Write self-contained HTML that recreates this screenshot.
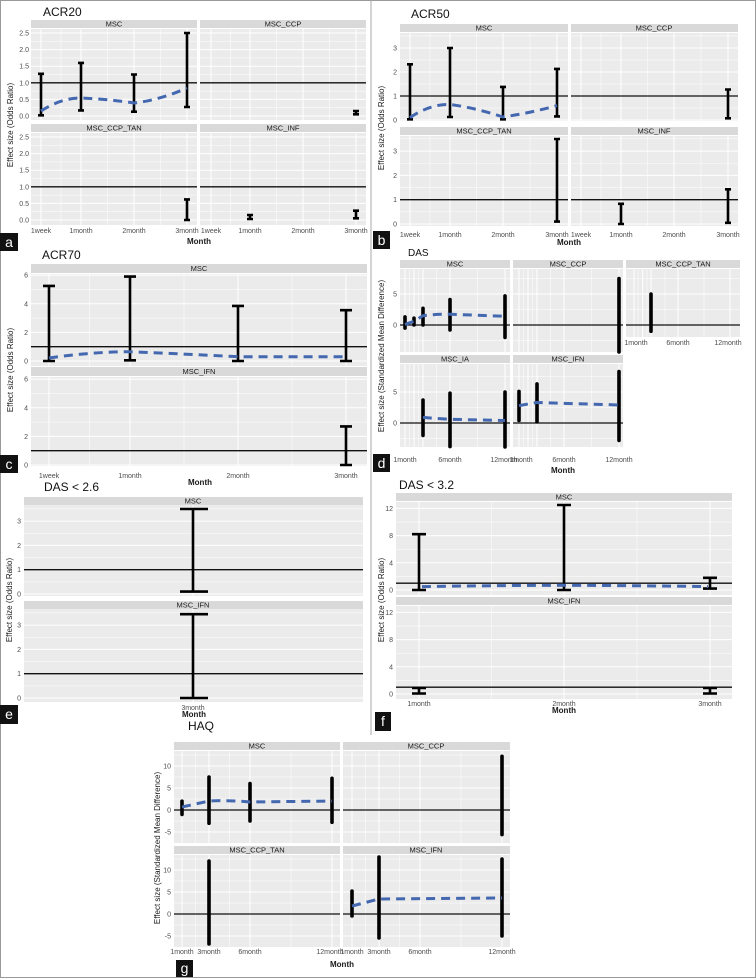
<!DOCTYPE html>
<html><head><meta charset="utf-8"><style>
html,body{margin:0;padding:0;background:#fff}
svg{display:block;font-family:"Liberation Sans",sans-serif}
.bg{fill:#ebebeb}.st{fill:#d9d9d9}
.M{stroke:#fff;stroke-width:1}.m{stroke:#fff;stroke-width:.5}
.r{stroke:#111;stroke-width:1.3}
.e{stroke:#000;stroke-width:2.6;fill:none}
.E{stroke:#000;stroke-width:3.6;fill:none;stroke-linecap:round}
.d{stroke:#4468b0;stroke-width:3;stroke-dasharray:9 6;fill:none}
.t{font-size:7px;fill:#4d4d4d}
.s{font-size:7.5px;fill:#1a1a1a;text-anchor:middle}
.x{font-size:7px;fill:#4d4d4d;text-anchor:middle}
.a{font-size:8px;font-weight:bold;fill:#1a1a1a;text-anchor:middle}
.yl{font-size:8px;fill:#1a1a1a;text-anchor:middle}
.ti{font-size:12px;fill:#111}
.lb{fill:#111}.lt{font-size:14px;fill:#fff;text-anchor:middle}
</style></head><body>
<svg width="756" height="978" viewBox="0 0 756 978">
<rect x="0.5" y="0.5" width="755" height="977" fill="none" stroke="#999"/>
<line x1="371" y1="0" x2="371" y2="735" stroke="#aaa"/>

<!-- ===== Panel a ===== -->
<text class="ti" x="43" y="16">ACR20</text>
<rect class="st" x="31" y="20" width="166" height="8"/><rect class="st" x="200" y="20" width="166" height="8"/>
<rect class="st" x="31" y="124" width="166" height="8"/><rect class="st" x="200" y="124" width="166" height="8"/>
<text class="s" x="114" y="26.5">MSC</text><text class="s" x="283" y="26.5">MSC_CCP</text>
<text class="s" x="114" y="130.5">MSC_CCP_TAN</text><text class="s" x="283" y="130.5">MSC_INF</text>
<rect class="bg" x="31" y="29" width="166" height="91"/><rect class="bg" x="200" y="29" width="166" height="91"/>
<rect class="bg" x="31" y="133" width="166" height="92"/><rect class="bg" x="200" y="133" width="166" height="92"/>
<g class="m">
<path d="M31 107.7H366M31 91.1H366M31 74.5H366M31 57.9H366M31 41.3H366M31 211.7H366M31 195.1H366M31 178.5H366M31 161.9H366M31 145.3H366"/>
<path d="M61 29V120M107.5 29V120M160.5 29V120M230.5 29V120M276.5 29V120M329.5 29V120M61 133V225M107.5 133V225M160.5 133V225M230.5 133V225M276.5 133V225M329.5 133V225"/>
</g>
<g class="M">
<path d="M31 116H366M31 99.4H366M31 66.2H366M31 49.6H366M31 33H366M31 220H366M31 203.4H366M31 170.2H366M31 153.6H366M31 137H366"/>
<path d="M41 29V120M81 29V120M134 29V120M187 29V120M211 29V120M250 29V120M303 29V120M356 29V120M41 133V225M81 133V225M134 133V225M187 133V225M211 133V225M250 133V225M303 133V225M356 133V225"/>
<rect x="197" y="20" width="3" height="205" fill="#fff" stroke="none"/>
</g>
<path class="r" d="M31 82.8H197M200 82.8H366M31 186.8H197M200 186.8H366"/>
<path class="e" d="M38 73.8H44M41 73.8V115.3M38 115.3H44M78 62.9H84M81 62.9V110.4M78 110.4H84M131 74.5H137M134 74.5V111.7M131 111.7H137M184 33H190M187 33V107M184 107H190M353 111H359M356 111V114.3M353 114.3H359M184 199.4H190M187 199.4V220M184 220H190M247 215H253M250 215V219M247 219H253M353 210.7H359M356 210.7V218.3M353 218.3H359"/>
<path class="d" d="M41 111Q61 98 81 98Q107 99 134 103Q160 100 187 88"/>
<g class="t" text-anchor="end"><text x="29" y="118.5">0.0</text><text x="29" y="101.9">0.5</text><text x="29" y="85.3">1.0</text><text x="29" y="68.7">1.5</text><text x="29" y="52.1">2.0</text><text x="29" y="35.5">2.5</text>
<text x="29" y="222.5">0.0</text><text x="29" y="205.9">0.5</text><text x="29" y="189.3">1.0</text><text x="29" y="172.7">1.5</text><text x="29" y="156.1">2.0</text><text x="29" y="139.5">2.5</text></g>
<g class="x"><text x="41" y="233">1week</text><text x="81" y="233">1month</text><text x="134" y="233">2month</text><text x="187" y="233">3month</text><text x="211" y="233">1week</text><text x="250" y="233">1month</text><text x="303" y="233">2month</text><text x="356" y="233">3month</text></g>
<text class="a" x="199" y="244">Month</text>
<text class="yl" transform="translate(13,125) rotate(-90)">Effect size (Odds Ratio)</text>
<rect class="lb" x="0" y="233" width="18" height="18"/><text class="lt" x="9" y="247">a</text>

<!-- ===== Panel b ===== -->
<text class="ti" x="411" y="18">ACR50</text>
<rect class="st" x="400" y="24" width="168" height="8"/><rect class="st" x="571" y="24" width="167" height="8"/>
<rect class="st" x="400" y="127" width="168" height="8"/><rect class="st" x="571" y="127" width="167" height="8"/>
<text class="s" x="484" y="30.5">MSC</text><text class="s" x="654" y="30.5">MSC_CCP</text>
<text class="s" x="484" y="133.5">MSC_CCP_TAN</text><text class="s" x="654" y="133.5">MSC_INF</text>
<rect class="bg" x="400" y="33" width="168" height="88"/><rect class="bg" x="571" y="33" width="167" height="88"/>
<rect class="bg" x="400" y="136" width="168" height="90"/><rect class="bg" x="571" y="136" width="167" height="90"/>
<g class="m"><path d="M400 108H738M400 84H738M400 60H738M400 36H738M400 211.9H738M400 187.6H738M400 163.3H738M400 138.8H738"/>
<path d="M430 33V121M476.5 33V121M530 33V121M601 33V121M647.5 33V121M701 33V121M430 136V226M476.5 136V226M530 136V226M601 136V226M647.5 136V226M701 136V226"/></g>
<g class="M"><path d="M400 120H738M400 72H738M400 48H738M400 224H738M400 175.4H738M400 151.1H738"/>
<path d="M410 33V121M450 33V121M503 33V121M557 33V121M581 33V121M621 33V121M674 33V121M728 33V121M410 136V226M450 136V226M503 136V226M557 136V226M581 136V226M621 136V226M674 136V226M728 136V226"/></g>
<rect x="568" y="24" width="3" height="202" fill="#fff"/>
<path class="r" d="M400 96H568M571 96H738M400 199.7H568M571 199.7H738"/>
<path class="e" d="M407 64.3H413M410 64.3V119.3M407 119.3H413M447 48H453M450 48V117M447 117H453M500 86.9H506M503 86.9V119.3M500 119.3H506M554 68.9H560M557 68.9V116.4M554 116.4H560M725 89.5H731M728 89.5V118.3M725 118.3H731M554 139H560M557 139V221.6M554 221.6H560M618 203.8H624M621 203.8V224M618 224H624M725 189.3H731M728 189.3V222.8M725 222.8H731"/>
<path class="d" d="M410 117.6Q430 104 450 104.4Q476 108 503 117Q530 113 557 105.6"/>
<g class="t" text-anchor="end"><text x="397" y="122.5">0</text><text x="397" y="98.5">1</text><text x="397" y="74.5">2</text><text x="397" y="50.5">3</text><text x="397" y="226.5">0</text><text x="397" y="202.2">1</text><text x="397" y="177.9">2</text><text x="397" y="153.6">3</text></g>
<g class="x"><text x="410" y="237">1week</text><text x="450" y="237">1month</text><text x="503" y="237">2month</text><text x="557" y="237">3month</text><text x="581" y="237">1week</text><text x="621" y="237">1month</text><text x="674" y="237">2month</text><text x="728" y="237">3month</text></g>
<text class="a" x="569" y="245">Month</text>
<text class="yl" transform="translate(384,128) rotate(-90)">Effect size (Odds Ratio)</text>
<rect class="lb" x="373" y="231" width="17" height="18"/><text class="lt" x="381.5" y="245">b</text>

<!-- ===== Panel c ===== -->
<text class="ti" x="42" y="259">ACR70</text>
<rect class="st" x="31" y="264" width="336" height="9"/><rect class="st" x="31" y="367" width="336" height="9"/>
<text class="s" x="199" y="271">MSC</text><text class="s" x="199" y="374">MSC_IFN</text>
<rect class="bg" x="31" y="274" width="336" height="92"/><rect class="bg" x="31" y="377" width="336" height="89"/>
<g class="m"><path d="M31 346.7H367M31 318.1H367M31 289.5H367M31 450.7H367M31 422.1H367M31 393.5H367M89.5 274V366M184 274V366M292 274V366M89.5 377V466M184 377V466M292 377V466"/></g>
<g class="M"><path d="M31 361H367M31 332.4H367M31 303.8H367M31 275.2H367M31 465H367M31 436.4H367M31 407.8H367M31 379.2H367M49 274V366M130 274V366M238 274V366M346 274V366M49 377V466M130 377V466M238 377V466M346 377V466"/></g>
<path class="r" d="M31 346.7H367M31 450.7H367"/>
<path class="e" d="M43 285.9H55M49 285.9V361M43 361H55M124 276.6H136M130 276.6V360.3M124 360.3H136M232 305.9H244M238 305.9V361M232 361H244M340 310.2H352M346 310.2V361M340 361H352M340 426.4H352M346 426.4V465M340 465H352"/>
<path class="d" d="M49 358Q90 352 130 351.7Q184 354 238 356.7L346 356.7"/>
<g class="t" text-anchor="end"><text x="28" y="363.5">0</text><text x="28" y="334.9">2</text><text x="28" y="306.3">4</text><text x="28" y="277.7">6</text><text x="28" y="467.5">0</text><text x="28" y="438.9">2</text><text x="28" y="410.3">4</text><text x="28" y="381.7">6</text></g>
<g class="x"><text x="49" y="478">1week</text><text x="130" y="478">1month</text><text x="238" y="478">2month</text><text x="346" y="478">3month</text></g>
<text class="a" x="200" y="485">Month</text>
<text class="yl" transform="translate(13,370) rotate(-90)">Effect size (Odds Ratio)</text>
<rect class="lb" x="0" y="455" width="18" height="18"/><text class="lt" x="9" y="469">c</text>

<!-- ===== Panel d ===== -->
<text class="ti" x="408" y="256" style="font-size:10px">DAS</text>
<rect class="st" x="400" y="260" width="110" height="8"/><rect class="st" x="513" y="260" width="110" height="8"/><rect class="st" x="626" y="260" width="114" height="8"/>
<rect class="st" x="400" y="355" width="110" height="8"/><rect class="st" x="513" y="355" width="110" height="8"/>
<text class="s" x="455" y="266.5">MSC</text><text class="s" x="568" y="266.5">MSC_CCP</text><text class="s" x="683" y="266.5">MSC_CCP_TAN</text>
<text class="s" x="455" y="361.5">MSC_IA</text><text class="s" x="568" y="361.5">MSC_IFN</text>
<rect class="bg" x="400" y="269" width="110" height="83"/><rect class="bg" x="513" y="269" width="110" height="83"/><rect class="bg" x="626" y="269" width="114" height="68"/>
<rect class="bg" x="400" y="364" width="110" height="83"/><rect class="bg" x="513" y="364" width="110" height="83"/>
<g class="m"><path d="M400 340.5H623M400 309.5H623M400 278.5H623M626 309.5H740M626 278.5H740M400 438.5H623M400 407.5H623M400 376.5H623"/>
<path d="M409.5 269V352M418.5 269V352M436.5 269V352M477.5 269V352M523.5 269V352M532.5 269V352M550.5 269V352M591.5 269V352M638 269V337M647 269V337M665 269V337M704 269V337M409.5 364V447M418.5 364V447M436.5 364V447M477.5 364V447M523.5 364V447M532.5 364V447M550.5 364V447M591.5 364V447"/></g>
<g class="M"><path d="M400 294H623M626 294H740M400 392H623"/>
<path d="M405 269V352M414 269V352M423 269V352M450 269V352M505 269V352M519 269V352M528 269V352M537 269V352M564 269V352M619 269V352M634 269V337M642.7 269V337M651 269V337M678 269V337M730 269V337M405 364V447M414 364V447M423 364V447M450 364V447M505 364V447M519 364V447M528 364V447M537 364V447M564 364V447M619 364V447"/></g>
<path class="r" d="M400 325H510M513 325H623M626 325H740M400 423H510M513 423H623"/>
<path class="E" d="M405 328.1V316.9M414 325V318.2M423 325V308.3M450 330V299.6M505 337.4V295.9M619 352V278.5M651 331.2V294M423 435.4V400.1M450 446.6V393.2M505 447V392M519 420.5V391.4M537 421.8V383.9M619 440.4V371.5"/>
<path class="d" d="M405 324.4L414 321.3L423 315.7Q436 314 450 314.2L505 316.3M423 417.4Q436 418.5 450 419.3L505 420.5M519 405.6L537 402.5L619 405"/>
<g class="t" text-anchor="end"><text x="397" y="327.5">0</text><text x="397" y="296.5">5</text><text x="397" y="425.5">0</text><text x="397" y="394.5">5</text></g>
<g class="x"><text x="405" y="462">1month</text><text x="450" y="462">6month</text><text x="504" y="462">12month</text><text x="521" y="462">1month</text><text x="564" y="462">6month</text><text x="619" y="462">12month</text>
<text x="636" y="345">1month</text><text x="678" y="345">6month</text><text x="728" y="345">12month</text></g>
<text class="a" x="563" y="473">Month</text>
<text class="yl" transform="translate(384,356) rotate(-90)">Effect size (Standardized Mean Difference)</text>
<rect class="lb" x="373" y="454" width="17" height="18"/><text class="lt" x="381.5" y="468">d</text>

<!-- ===== Panel e ===== -->
<text class="ti" x="44" y="491">DAS &lt; 2.6</text>
<rect class="st" x="24" y="497" width="339" height="8"/><rect class="st" x="24" y="601" width="339" height="8"/>
<text class="s" x="193" y="503.5">MSC</text><text class="s" x="193" y="607.5">MSC_IFN</text>
<rect class="bg" x="24" y="505" width="339" height="91"/><rect class="bg" x="24" y="609" width="339" height="93"/>
<g class="m"><path d="M24 581.9H363M24 557.6H363M24 533.3H363M24 508.9H363M24 685.9H363M24 661.6H363M24 637.3H363M24 612.9H363"/></g>
<g class="M"><path d="M24 594H363M24 545.4H363M24 521.1H363M24 698H363M24 649.4H363M24 625.1H363M193 505V596M193 609V702"/></g>
<path class="r" d="M24 569.7H363M24 673.7H363"/>
<path class="e" d="M180 509H208M193 509V591.6M180 591.6H208M180 614.2H208M193 614.2V698M180 698H208"/>
<g class="t" text-anchor="end"><text x="21" y="596.5">0</text><text x="21" y="572.2">1</text><text x="21" y="547.9">2</text><text x="21" y="523.6">3</text><text x="21" y="700.5">0</text><text x="21" y="676.2">1</text><text x="21" y="651.9">2</text><text x="21" y="627.6">3</text></g>
<text class="x" x="193" y="710">3month</text>
<text class="a" x="194" y="717">Month</text>
<text class="yl" transform="translate(12,600) rotate(-90)">Effect size (Odds Ratio)</text>
<rect class="lb" x="0" y="705" width="18" height="19"/><text class="lt" x="9" y="719">e</text>

<!-- ===== Panel f ===== -->
<text class="ti" x="399" y="489">DAS &lt; 3.2</text>
<rect class="st" x="396" y="493" width="336" height="8"/><rect class="st" x="396" y="597" width="336" height="8"/>
<text class="s" x="564" y="499.5">MSC</text><text class="s" x="564" y="603.5">MSC_IFN</text>
<rect class="bg" x="396" y="502" width="336" height="93"/><rect class="bg" x="396" y="606" width="336" height="93"/>
<g class="m"><path d="M396 576.4H732M396 549.2H732M396 522H732M396 680.4H732M396 653.2H732M396 626H732M491.5 502V595M637 502V595M491.5 606V699M637 606V699"/></g>
<g class="M"><path d="M396 590H732M396 562.8H732M396 535.6H732M396 508.4H732M396 694H732M396 666.8H732M396 639.6H732M396 612.4H732M419 502V595M564 502V595M710 502V595M419 606V699M564 606V699M710 606V699"/></g>
<path class="r" d="M396 583.2H732M396 687.2H732"/>
<path class="e" d="M412 534.2H426M419 534.2V590M412 590H426M557 505H571M564 505V590M557 590H571M703 577.8H717M710 577.8V588.6M703 588.6H717M412 688H426M419 688V693.5M412 693.5H426M703 688H717M710 688V693.5M703 693.5H717"/>
<path class="d" d="M422 586.6Q490 585.5 564 585.3Q640 585.6 708 586.6"/>
<g class="t" text-anchor="end"><text x="393" y="592.5">0</text><text x="393" y="565.3">4</text><text x="393" y="538.1">8</text><text x="393" y="510.9">12</text><text x="393" y="696.5">0</text><text x="393" y="669.3">4</text><text x="393" y="642.1">8</text><text x="393" y="614.9">12</text></g>
<g class="x"><text x="419" y="706">1month</text><text x="564" y="706">2month</text><text x="710" y="706">3month</text></g>
<text class="a" x="564" y="713">Month</text>
<text class="yl" transform="translate(384,600) rotate(-90)">Effect size (Odds Ratio)</text>
<rect class="lb" x="375" y="712" width="16" height="19"/><text class="lt" x="383" y="726">f</text>

<!-- ===== Panel g ===== -->
<text class="ti" x="188" y="730">HAQ</text>
<rect class="st" x="174" y="742" width="166" height="8"/><rect class="st" x="343" y="742" width="167" height="8"/>
<rect class="st" x="174" y="846" width="166" height="8"/><rect class="st" x="343" y="846" width="167" height="8"/>
<text class="s" x="257" y="748.5">MSC</text><text class="s" x="426" y="748.5">MSC_CCP</text>
<text class="s" x="257" y="852.5">MSC_CCP_TAN</text><text class="s" x="426" y="852.5">MSC_IFN</text>
<rect class="bg" x="174" y="751" width="166" height="92"/><rect class="bg" x="343" y="751" width="167" height="92"/>
<rect class="bg" x="174" y="855" width="166" height="92"/><rect class="bg" x="343" y="855" width="167" height="92"/>
<g class="m"><path d="M174 777H510M174 799H510M174 821H510M174 755H510M174 881H510M174 903H510M174 925H510M174 859H510M195.5 751V843M229.5 751V843M291 751V843M365.5 751V843M399.5 751V843M461 751V843M195.5 855V947M229.5 855V947M291 855V947M365.5 855V947M399.5 855V947M461 855V947"/></g>
<g class="M"><path d="M174 766H510M174 788H510M174 832H510M174 870H510M174 892H510M174 936H510M182 751V843M209 751V843M250 751V843M332 751V843M352 751V843M379 751V843M420 751V843M502 751V843M182 855V947M209 855V947M250 855V947M332 855V947M352 855V947M379 855V947M420 855V947M502 855V947"/></g>
<rect x="340" y="742" width="3" height="205" fill="#fff"/>
<path class="r" d="M174 810H340M343 810H510M174 914H340M343 914H510"/>
<path class="E" d="M182 814.4V801.2M209 823.2V777M250 821V783.6M332 822.3V778.3M502 834.6V756.3M209 944V861M352 916V891M379 938V857M502 936V859"/>
<path class="d" d="M182 807L209 801Q230 800 250 802L332 801M352 906L379 899L502 898"/>
<g class="t" text-anchor="end"><text x="171" y="768.5">10</text><text x="171" y="790.5">5</text><text x="171" y="812.5">0</text><text x="171" y="834.5">-5</text><text x="171" y="872.5">10</text><text x="171" y="894.5">5</text><text x="171" y="916.5">0</text><text x="171" y="938.5">-5</text></g>
<g class="x"><text x="182" y="954">1month</text><text x="209" y="954">3month</text><text x="250" y="954">6month</text><text x="330" y="954">12month</text><text x="352" y="954">1month</text><text x="379" y="954">3month</text><text x="420" y="954">6month</text><text x="502" y="954">12month</text></g>
<text class="a" x="342" y="967">Month</text>
<text class="yl" transform="translate(160,848) rotate(-90)">Effect size (Standardized Mean Difference)</text>
<rect class="lb" x="176" y="960" width="17" height="17"/><text class="lt" x="184.5" y="973">g</text>
</svg>
</body></html>
